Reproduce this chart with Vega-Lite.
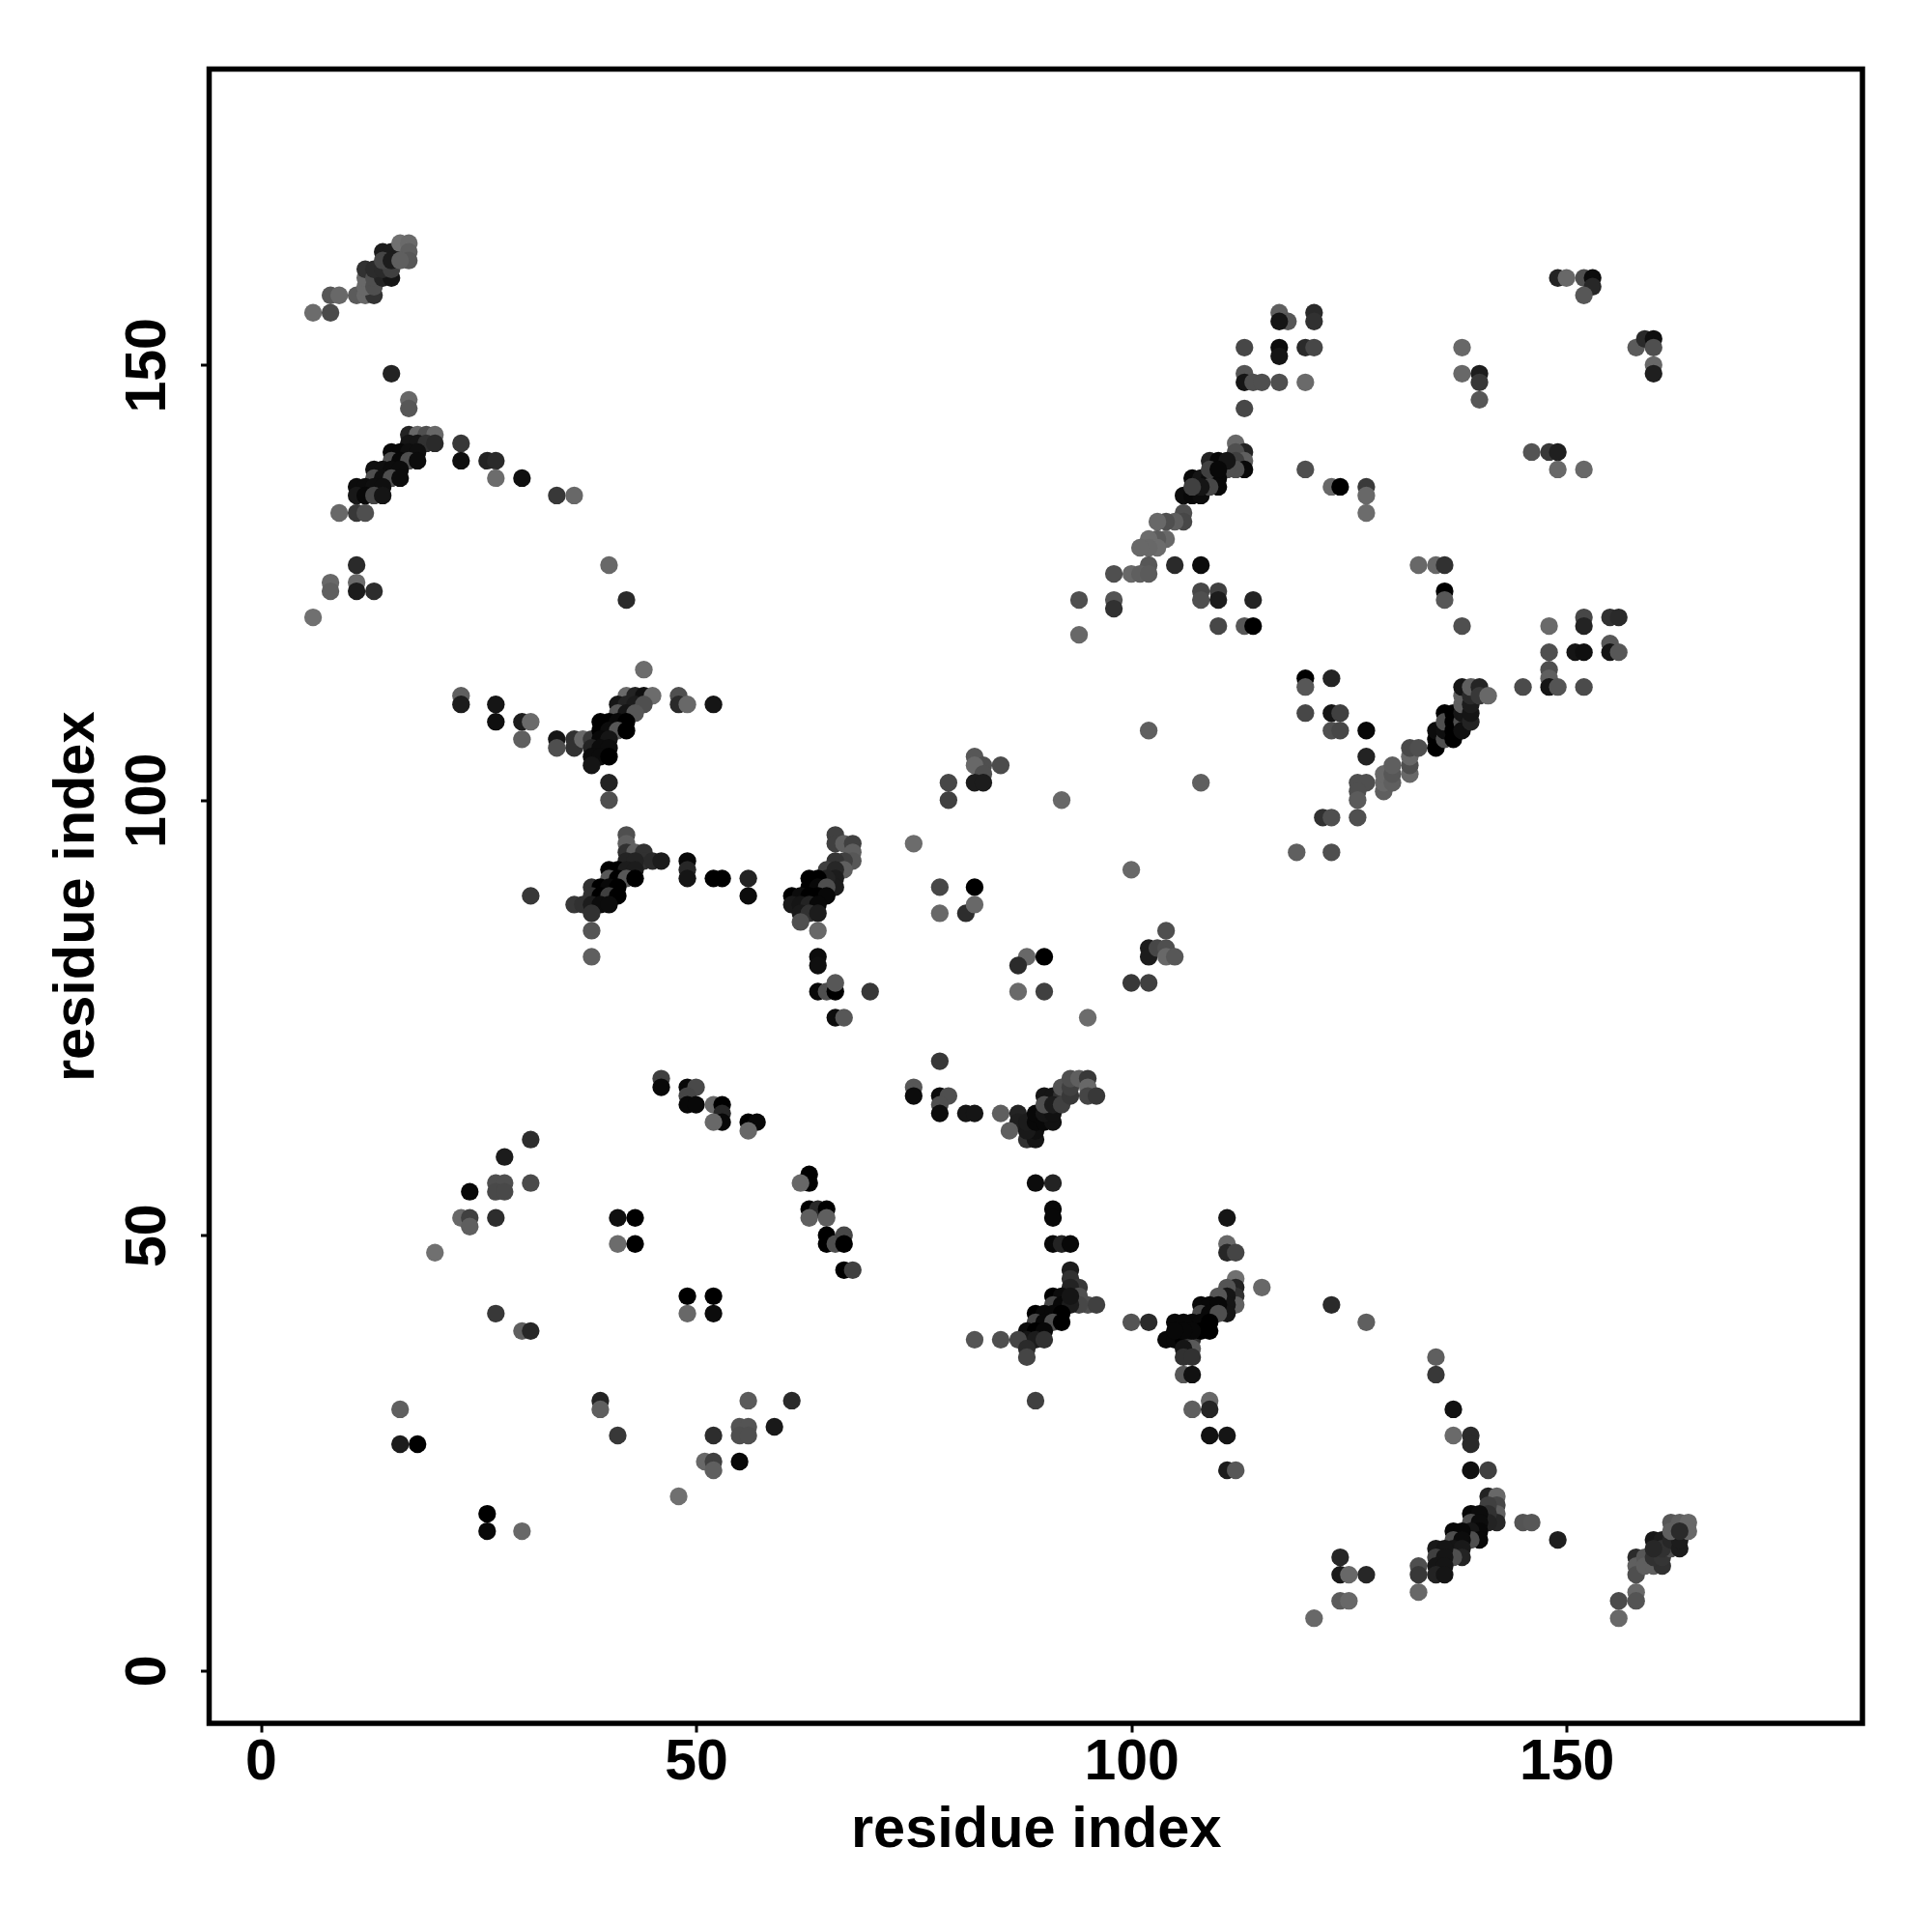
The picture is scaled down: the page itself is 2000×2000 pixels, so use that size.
{"$schema":"https://vega.github.io/schema/vega-lite/v6.json","width":1711.5,"height":1712.5,"autosize":{"type":"none"},"padding":{"left":216.5,"top":71.5,"right":72,"bottom":216},"background":"white","config":{"view":{"stroke":"black","strokeWidth":5.5,"fill":"white"}},
"data":{"values":[
{"x":6,"y":156,"v":108},{"x":8,"y":156,"v":76},{"x":8,"y":158,"v":88},{"x":9,"y":158,"v":104},{"x":11,"y":158,"v":92},{"x":12,"y":158,"v":104},{"x":13,"y":158,"v":50},{"x":12,"y":159,"v":104},{"x":12,"y":160,"v":104},{"x":12,"y":161,"v":48},{"x":13,"y":159,"v":80},{"x":13,"y":160,"v":80},{"x":14,"y":160,"v":32},{"x":15,"y":160,"v":16},{"x":13,"y":161,"v":42},{"x":14,"y":161,"v":40},{"x":15,"y":161,"v":64},{"x":14,"y":163,"v":24},{"x":15,"y":163,"v":24},{"x":14,"y":162,"v":70},{"x":15,"y":162,"v":24},{"x":16,"y":164,"v":112},{"x":17,"y":164,"v":106},{"x":17,"y":163,"v":96},{"x":17,"y":162,"v":88},{"x":16,"y":162,"v":96},
{"x":15,"y":149,"v":32},{"x":17,"y":146,"v":104},{"x":17,"y":145,"v":88},
{"x":17,"y":142,"v":32},{"x":18,"y":142,"v":104},{"x":19,"y":142,"v":80},{"x":20,"y":142,"v":104},{"x":17,"y":141,"v":16},{"x":18,"y":141,"v":16},{"x":19,"y":141,"v":48},{"x":20,"y":141,"v":40},{"x":15,"y":140,"v":5},{"x":16,"y":140,"v":5},{"x":17,"y":140,"v":10},{"x":18,"y":140,"v":10},{"x":15,"y":139,"v":80},{"x":16,"y":139,"v":5},{"x":17,"y":139,"v":80},{"x":18,"y":139,"v":8},{"x":13,"y":138,"v":10},{"x":14,"y":138,"v":10},{"x":15,"y":138,"v":8},{"x":16,"y":138,"v":8},{"x":13,"y":137,"v":80},{"x":14,"y":137,"v":10},{"x":15,"y":137,"v":80},{"x":16,"y":137,"v":8},{"x":11,"y":136,"v":8},{"x":12,"y":136,"v":8},{"x":13,"y":136,"v":10},{"x":14,"y":136,"v":10},{"x":11,"y":135,"v":20},{"x":12,"y":135,"v":5},{"x":13,"y":135,"v":70},{"x":14,"y":135,"v":16},
{"x":23,"y":141,"v":56},{"x":23,"y":139,"v":10},{"x":26,"y":139,"v":32},{"x":27,"y":139,"v":40},{"x":27,"y":137,"v":108},{"x":30,"y":137,"v":10},{"x":34,"y":135,"v":56},{"x":36,"y":135,"v":104},{"x":9,"y":133,"v":104},{"x":11,"y":133,"v":56},{"x":12,"y":133,"v":80},{"x":11,"y":127,"v":40},{"x":8,"y":125,"v":104},{"x":8,"y":124,"v":96},{"x":11,"y":125,"v":106},{"x":11,"y":124,"v":24},{"x":13,"y":124,"v":44},{"x":6,"y":121,"v":112},{"x":40,"y":127,"v":104},{"x":42,"y":123,"v":40},{"x":44,"y":115,"v":108},
{"x":23,"y":112,"v":96},{"x":23,"y":111,"v":24},{"x":27,"y":111,"v":16},{"x":27,"y":109,"v":10},{"x":30,"y":109,"v":24},{"x":31,"y":109,"v":106},{"x":30,"y":107,"v":96},{"x":34,"y":107,"v":16},{"x":34,"y":106,"v":80},{"x":36,"y":107,"v":48},{"x":36,"y":106,"v":48},{"x":37,"y":107,"v":104},{"x":38,"y":107,"v":56},{"x":42,"y":112,"v":106},{"x":43,"y":112,"v":32},{"x":44,"y":112,"v":10},{"x":45,"y":112,"v":108},{"x":41,"y":111,"v":16},{"x":42,"y":111,"v":32},{"x":43,"y":111,"v":24},{"x":44,"y":111,"v":80},{"x":41,"y":110,"v":88},{"x":42,"y":110,"v":16},{"x":43,"y":110,"v":88},{"x":39,"y":109,"v":0},{"x":40,"y":109,"v":0},{"x":41,"y":109,"v":5},{"x":42,"y":109,"v":0},{"x":39,"y":108,"v":0},{"x":40,"y":108,"v":8},{"x":41,"y":108,"v":88},{"x":42,"y":108,"v":0},{"x":39,"y":107,"v":5},{"x":40,"y":107,"v":16},{"x":38,"y":106,"v":32},{"x":39,"y":106,"v":8},{"x":40,"y":106,"v":8},{"x":38,"y":105,"v":8},{"x":39,"y":105,"v":8},{"x":40,"y":105,"v":0},{"x":38,"y":104,"v":16},{"x":40,"y":102,"v":32},{"x":40,"y":100,"v":80},{"x":48,"y":112,"v":80},{"x":48,"y":111,"v":40},{"x":49,"y":111,"v":104},{"x":52,"y":111,"v":16},
{"x":42,"y":96,"v":80},{"x":42,"y":95,"v":96},{"x":42,"y":94,"v":48},{"x":43,"y":94,"v":96},{"x":44,"y":94,"v":48},{"x":44,"y":93,"v":48},{"x":45,"y":93,"v":40},{"x":46,"y":93,"v":24},{"x":42,"y":93,"v":32},{"x":43,"y":93,"v":32},{"x":49,"y":93,"v":5},{"x":49,"y":92,"v":37},{"x":49,"y":91,"v":16},{"x":52,"y":91,"v":0},{"x":53,"y":91,"v":0},{"x":56,"y":91,"v":32},{"x":56,"y":89,"v":8},{"x":31,"y":89,"v":56},{"x":40,"y":92,"v":0},{"x":41,"y":92,"v":0},{"x":42,"y":92,"v":24},{"x":43,"y":92,"v":24},{"x":40,"y":91,"v":88},{"x":41,"y":91,"v":0},{"x":42,"y":91,"v":88},{"x":43,"y":91,"v":0},{"x":38,"y":90,"v":48},{"x":39,"y":90,"v":0},{"x":40,"y":90,"v":5},{"x":41,"y":90,"v":0},{"x":38,"y":89,"v":48},{"x":39,"y":89,"v":0},{"x":40,"y":89,"v":64},{"x":41,"y":89,"v":0},{"x":36,"y":88,"v":56},{"x":37,"y":88,"v":48},{"x":38,"y":88,"v":24},{"x":39,"y":88,"v":8},{"x":40,"y":88,"v":8},{"x":38,"y":87,"v":48},{"x":38,"y":85,"v":85},{"x":38,"y":82,"v":96},
{"x":82,"y":105,"v":88},{"x":83,"y":104,"v":80},{"x":85,"y":104,"v":76},{"x":82,"y":104,"v":104},{"x":83,"y":103,"v":80},{"x":82,"y":102,"v":24},{"x":83,"y":102,"v":24},{"x":79,"y":102,"v":72},{"x":79,"y":100,"v":64},{"x":92,"y":100,"v":104},{"x":108,"y":102,"v":96},{"x":102,"y":108,"v":96},{"x":75,"y":95,"v":108},
{"x":66,"y":96,"v":64},{"x":66,"y":95,"v":64},{"x":67,"y":95,"v":96},{"x":68,"y":95,"v":64},{"x":68,"y":94,"v":96},{"x":68,"y":93,"v":88},{"x":67,"y":93,"v":64},{"x":66,"y":93,"v":53},{"x":67,"y":92,"v":96},{"x":65,"y":92,"v":64},{"x":66,"y":92,"v":37},{"x":66,"y":91,"v":24},{"x":66,"y":90,"v":24},{"x":65,"y":91,"v":32},{"x":63,"y":91,"v":0},{"x":64,"y":91,"v":0},{"x":63,"y":90,"v":0},{"x":64,"y":90,"v":5},{"x":65,"y":90,"v":80},{"x":61,"y":89,"v":0},{"x":62,"y":89,"v":8},{"x":63,"y":89,"v":0},{"x":64,"y":89,"v":0},{"x":65,"y":89,"v":5},{"x":61,"y":88,"v":21},{"x":62,"y":88,"v":16},{"x":63,"y":88,"v":32},{"x":64,"y":88,"v":5},{"x":62,"y":87,"v":21},{"x":63,"y":87,"v":48},{"x":64,"y":87,"v":24},{"x":62,"y":86,"v":80},{"x":64,"y":85,"v":104},
{"x":64,"y":82,"v":8},{"x":64,"y":81,"v":10},{"x":64,"y":78,"v":5},{"x":65,"y":78,"v":80},{"x":66,"y":78,"v":0},{"x":66,"y":79,"v":88},{"x":70,"y":78,"v":56},{"x":66,"y":75,"v":8},{"x":67,"y":75,"v":88},{"x":78,"y":90,"v":72},{"x":82,"y":90,"v":0},{"x":78,"y":87,"v":104},{"x":81,"y":87,"v":44},{"x":82,"y":88,"v":104},{"x":88,"y":82,"v":104},{"x":90,"y":82,"v":0},{"x":87,"y":81,"v":42},{"x":87,"y":78,"v":106},{"x":90,"y":78,"v":64},{"x":95,"y":75,"v":108},{"x":100,"y":92,"v":104},{"x":104,"y":85,"v":80},{"x":102,"y":83,"v":24},{"x":102,"y":82,"v":24},{"x":103,"y":83,"v":72},{"x":104,"y":83,"v":80},{"x":104,"y":82,"v":104},{"x":105,"y":82,"v":88},{"x":100,"y":79,"v":56},{"x":102,"y":79,"v":64},{"x":78,"y":70,"v":56},{"x":75,"y":67,"v":88},{"x":75,"y":66,"v":8},{"x":78,"y":66,"v":8},{"x":79,"y":66,"v":80},{"x":78,"y":65,"v":80},{"x":78,"y":64,"v":8},{"x":81,"y":64,"v":16},{"x":82,"y":64,"v":16},{"x":85,"y":64,"v":96},
{"x":87,"y":64,"v":32},{"x":87,"y":63,"v":28},{"x":86,"y":62,"v":96},{"x":88,"y":61,"v":48},{"x":89,"y":61,"v":16},{"x":89,"y":62,"v":10},{"x":88,"y":62,"v":21},{"x":88,"y":63,"v":24},{"x":89,"y":63,"v":5},{"x":89,"y":64,"v":5},{"x":90,"y":63,"v":5},{"x":91,"y":63,"v":12},{"x":90,"y":64,"v":16},{"x":91,"y":64,"v":12},{"x":90,"y":66,"v":16},{"x":91,"y":66,"v":16},{"x":92,"y":66,"v":48},{"x":90,"y":65,"v":80},{"x":91,"y":65,"v":24},{"x":92,"y":65,"v":64},{"x":92,"y":67,"v":85},{"x":93,"y":66,"v":56},{"x":93,"y":67,"v":64},{"x":93,"y":68,"v":80},{"x":94,"y":68,"v":96},{"x":95,"y":68,"v":56},{"x":95,"y":67,"v":104},{"x":95,"y":66,"v":69},{"x":96,"y":66,"v":56},
{"x":117,"y":156,"v":96},{"x":118,"y":155,"v":88},{"x":117,"y":155,"v":16},{"x":121,"y":156,"v":40},{"x":121,"y":155,"v":48},{"x":113,"y":152,"v":72},{"x":117,"y":152,"v":8},{"x":117,"y":151,"v":16},{"x":120,"y":152,"v":40},{"x":121,"y":152,"v":72},{"x":138,"y":152,"v":104},{"x":138,"y":149,"v":104},{"x":140,"y":149,"v":26},{"x":140,"y":148,"v":56},{"x":140,"y":146,"v":88},{"x":113,"y":149,"v":85},{"x":113,"y":148,"v":16},{"x":114,"y":148,"v":80},{"x":115,"y":148,"v":80},{"x":117,"y":148,"v":80},{"x":120,"y":148,"v":106},{"x":113,"y":145,"v":72},
{"x":112,"y":141,"v":104},{"x":113,"y":140,"v":32},{"x":112,"y":140,"v":80},{"x":113,"y":139,"v":96},{"x":112,"y":139,"v":64},{"x":113,"y":138,"v":5},{"x":112,"y":138,"v":80},{"x":111,"y":138,"v":80},{"x":109,"y":139,"v":32},{"x":110,"y":139,"v":5},{"x":111,"y":139,"v":16},{"x":107,"y":137,"v":5},{"x":108,"y":137,"v":16},{"x":109,"y":137,"v":8},{"x":110,"y":137,"v":5},{"x":109,"y":138,"v":64},{"x":110,"y":138,"v":5},{"x":106,"y":135,"v":8},{"x":107,"y":135,"v":5},{"x":108,"y":135,"v":8},{"x":110,"y":136,"v":5},{"x":109,"y":136,"v":72},{"x":108,"y":136,"v":16},{"x":107,"y":136,"v":64},
{"x":106,"y":133,"v":80},{"x":106,"y":132,"v":72},{"x":105,"y":132,"v":96},{"x":104,"y":132,"v":80},{"x":103,"y":132,"v":104},{"x":104,"y":130,"v":104},{"x":103,"y":130,"v":92},{"x":102,"y":130,"v":108},{"x":103,"y":129,"v":108},{"x":102,"y":129,"v":104},{"x":101,"y":129,"v":104},{"x":102,"y":127,"v":88},{"x":105,"y":127,"v":40},{"x":108,"y":127,"v":8},{"x":98,"y":126,"v":80},{"x":100,"y":126,"v":104},{"x":101,"y":126,"v":96},{"x":102,"y":126,"v":92},{"x":94,"y":123,"v":80},{"x":98,"y":123,"v":85},{"x":98,"y":122,"v":48},{"x":108,"y":124,"v":72},{"x":108,"y":123,"v":80},{"x":110,"y":124,"v":64},{"x":110,"y":123,"v":24},{"x":114,"y":123,"v":34},{"x":94,"y":119,"v":104},{"x":110,"y":120,"v":72},{"x":113,"y":120,"v":88},{"x":114,"y":120,"v":0},{"x":120,"y":138,"v":80},{"x":123,"y":136,"v":104},{"x":124,"y":136,"v":0},{"x":127,"y":136,"v":58},{"x":127,"y":135,"v":104},{"x":127,"y":133,"v":108},{"x":133,"y":127,"v":104},{"x":135,"y":127,"v":104},{"x":136,"y":127,"v":48},{"x":136,"y":124,"v":0},{"x":136,"y":123,"v":88},{"x":138,"y":120,"v":80},{"x":146,"y":140,"v":85},{"x":148,"y":140,"v":56},{"x":149,"y":140,"v":28},{"x":149,"y":138,"v":104},{"x":152,"y":138,"v":104},
{"x":148,"y":120,"v":106},{"x":152,"y":121,"v":72},{"x":152,"y":120,"v":32},{"x":155,"y":121,"v":48},{"x":156,"y":121,"v":40},{"x":148,"y":117,"v":80},{"x":151,"y":117,"v":16},{"x":152,"y":117,"v":10},{"x":155,"y":118,"v":88},{"x":155,"y":117,"v":16},{"x":156,"y":117,"v":88},{"x":148,"y":115,"v":80},{"x":148,"y":114,"v":96},{"x":148,"y":113,"v":16},{"x":149,"y":113,"v":85},{"x":145,"y":113,"v":76},{"x":152,"y":113,"v":76},{"x":120,"y":114,"v":0},{"x":120,"y":113,"v":88},{"x":123,"y":114,"v":34},{"x":120,"y":110,"v":72},{"x":123,"y":110,"v":16},{"x":124,"y":110,"v":64},{"x":123,"y":108,"v":80},{"x":124,"y":108,"v":72},{"x":127,"y":108,"v":5},{"x":127,"y":105,"v":32},{"x":126,"y":102,"v":80},{"x":127,"y":102,"v":80},{"x":126,"y":101,"v":80},{"x":126,"y":100,"v":92},{"x":126,"y":98,"v":80},{"x":122,"y":98,"v":48},{"x":123,"y":98,"v":80},{"x":119,"y":94,"v":96},{"x":123,"y":94,"v":80},{"x":129,"y":101,"v":96},{"x":129,"y":102,"v":104},{"x":129,"y":103,"v":104},{"x":130,"y":102,"v":96},{"x":130,"y":103,"v":88},{"x":130,"y":104,"v":96},{"x":132,"y":103,"v":104},{"x":132,"y":104,"v":80},{"x":132,"y":105,"v":104},{"x":132,"y":106,"v":74},{"x":133,"y":106,"v":80},
{"x":135,"y":106,"v":0},{"x":135,"y":107,"v":0},{"x":135,"y":108,"v":8},{"x":136,"y":107,"v":80},{"x":136,"y":108,"v":10},{"x":136,"y":110,"v":0},{"x":136,"y":109,"v":80},{"x":137,"y":107,"v":0},{"x":137,"y":108,"v":0},{"x":137,"y":109,"v":0},{"x":137,"y":110,"v":0},{"x":138,"y":109,"v":80},{"x":138,"y":108,"v":10},{"x":138,"y":110,"v":16},{"x":138,"y":111,"v":96},{"x":138,"y":112,"v":96},{"x":138,"y":113,"v":16},{"x":139,"y":109,"v":32},{"x":139,"y":110,"v":16},{"x":139,"y":111,"v":24},{"x":139,"y":112,"v":40},{"x":139,"y":113,"v":96},{"x":140,"y":113,"v":34},{"x":140,"y":112,"v":56},{"x":141,"y":112,"v":104},
{"x":46,"y":68,"v":64},{"x":46,"y":67,"v":5},{"x":49,"y":67,"v":5},{"x":50,"y":67,"v":74},{"x":49,"y":66,"v":69},{"x":49,"y":65,"v":5},{"x":50,"y":65,"v":5},{"x":52,"y":65,"v":104},{"x":53,"y":65,"v":0},{"x":53,"y":64,"v":37},{"x":53,"y":63,"v":5},{"x":52,"y":63,"v":104},{"x":56,"y":63,"v":0},{"x":57,"y":63,"v":5},{"x":56,"y":62,"v":104},{"x":31,"y":61,"v":44},{"x":28,"y":59,"v":24},{"x":24,"y":55,"v":5},{"x":27,"y":56,"v":80},{"x":28,"y":56,"v":80},{"x":27,"y":55,"v":74},{"x":28,"y":55,"v":74},{"x":31,"y":56,"v":76},{"x":23,"y":52,"v":104},{"x":24,"y":52,"v":64},{"x":24,"y":51,"v":96},{"x":27,"y":52,"v":44},{"x":20,"y":48,"v":112},{"x":41,"y":52,"v":10},{"x":43,"y":52,"v":0},{"x":41,"y":49,"v":108},{"x":43,"y":49,"v":0},{"x":27,"y":41,"v":56},{"x":30,"y":39,"v":96},{"x":31,"y":39,"v":37},{"x":49,"y":43,"v":0},{"x":52,"y":43,"v":0},{"x":49,"y":41,"v":104},{"x":52,"y":41,"v":8},{"x":63,"y":57,"v":0},{"x":63,"y":56,"v":0},{"x":62,"y":56,"v":104},{"x":63,"y":53,"v":0},{"x":64,"y":53,"v":40},{"x":65,"y":53,"v":0},{"x":63,"y":52,"v":96},{"x":65,"y":52,"v":96},{"x":65,"y":50,"v":0},{"x":65,"y":49,"v":0},{"x":66,"y":49,"v":80},{"x":67,"y":50,"v":72},{"x":67,"y":49,"v":0},{"x":67,"y":46,"v":0},{"x":68,"y":46,"v":64},{"x":39,"y":31,"v":34},{"x":39,"y":30,"v":96},{"x":41,"y":27,"v":56},{"x":56,"y":31,"v":92},{"x":61,"y":31,"v":40},{"x":59,"y":28,"v":21},{"x":55,"y":28,"v":85},{"x":56,"y":28,"v":85},{"x":55,"y":27,"v":80},{"x":56,"y":27,"v":80},{"x":52,"y":27,"v":44},{"x":51,"y":24,"v":104},{"x":52,"y":24,"v":64},{"x":52,"y":23,"v":96},{"x":55,"y":24,"v":5},{"x":48,"y":20,"v":112},{"x":26,"y":18,"v":0},{"x":26,"y":16,"v":5},{"x":30,"y":16,"v":104},{"x":18,"y":26,"v":0},{"x":16,"y":26,"v":24},{"x":16,"y":30,"v":96},
{"x":89,"y":56,"v":8},{"x":91,"y":56,"v":32},{"x":91,"y":53,"v":5},{"x":91,"y":52,"v":5},{"x":91,"y":49,"v":5},{"x":92,"y":49,"v":32},{"x":93,"y":49,"v":5},{"x":93,"y":46,"v":24},{"x":93,"y":45,"v":48},{"x":94,"y":44,"v":56},{"x":93,"y":44,"v":32},{"x":94,"y":43,"v":80},{"x":95,"y":42,"v":80},{"x":96,"y":42,"v":64},{"x":94,"y":42,"v":72},{"x":91,"y":43,"v":0},{"x":92,"y":43,"v":8},{"x":91,"y":42,"v":72},{"x":92,"y":42,"v":5},{"x":93,"y":42,"v":24},{"x":93,"y":43,"v":16},{"x":89,"y":41,"v":0},{"x":90,"y":41,"v":5},{"x":91,"y":41,"v":5},{"x":92,"y":41,"v":0},{"x":89,"y":40,"v":72},{"x":90,"y":40,"v":5},{"x":91,"y":40,"v":80},{"x":92,"y":40,"v":0},{"x":88,"y":39,"v":8},{"x":89,"y":39,"v":0},{"x":90,"y":39,"v":5},{"x":88,"y":38,"v":16},{"x":89,"y":38,"v":24},{"x":90,"y":38,"v":48},{"x":87,"y":38,"v":69},{"x":88,"y":37,"v":40},{"x":88,"y":36,"v":69},{"x":82,"y":38,"v":85},{"x":85,"y":38,"v":80},{"x":89,"y":31,"v":64},{"x":100,"y":40,"v":85},{"x":102,"y":40,"v":40},
{"x":111,"y":52,"v":16},{"x":111,"y":49,"v":104},{"x":111,"y":48,"v":37},{"x":112,"y":48,"v":69},{"x":112,"y":45,"v":112},{"x":112,"y":44,"v":32},{"x":112,"y":43,"v":48},{"x":112,"y":42,"v":96},{"x":111,"y":44,"v":85},{"x":115,"y":44,"v":104},{"x":111,"y":43,"v":16},{"x":111,"y":42,"v":16},{"x":111,"y":41,"v":16},{"x":110,"y":43,"v":88},{"x":108,"y":42,"v":5},{"x":109,"y":42,"v":5},{"x":110,"y":42,"v":5},{"x":108,"y":41,"v":72},{"x":109,"y":41,"v":5},{"x":110,"y":41,"v":80},{"x":107,"y":40,"v":5},{"x":108,"y":40,"v":5},{"x":109,"y":40,"v":0},{"x":105,"y":40,"v":5},{"x":106,"y":40,"v":5},{"x":104,"y":38,"v":5},{"x":105,"y":38,"v":5},{"x":106,"y":38,"v":0},{"x":107,"y":38,"v":48},{"x":109,"y":39,"v":0},{"x":108,"y":39,"v":0},{"x":107,"y":39,"v":5},{"x":106,"y":39,"v":5},{"x":105,"y":39,"v":5},{"x":107,"y":37,"v":90},{"x":106,"y":37,"v":16},{"x":106,"y":36,"v":48},{"x":107,"y":36,"v":48},{"x":106,"y":34,"v":88},{"x":107,"y":34,"v":12},{"x":107,"y":30,"v":96},{"x":109,"y":31,"v":104},{"x":109,"y":30,"v":34},{"x":109,"y":27,"v":12},{"x":111,"y":27,"v":16},{"x":111,"y":23,"v":24},{"x":112,"y":23,"v":88},{"x":123,"y":42,"v":40},{"x":127,"y":40,"v":96},{"x":135,"y":36,"v":96},{"x":135,"y":34,"v":56},{"x":124,"y":13,"v":37},{"x":124,"y":11,"v":21},{"x":125,"y":11,"v":104},{"x":127,"y":11,"v":37},{"x":124,"y":8,"v":92},{"x":125,"y":8,"v":104},{"x":121,"y":6,"v":104},{"x":133,"y":12,"v":80},{"x":133,"y":11,"v":56},{"x":133,"y":9,"v":104},
{"x":137,"y":30,"v":12},{"x":137,"y":27,"v":106},{"x":139,"y":27,"v":40},{"x":139,"y":26,"v":40},{"x":139,"y":23,"v":10},{"x":141,"y":23,"v":64},{"x":141,"y":20,"v":32},{"x":142,"y":20,"v":104},{"x":142,"y":19,"v":72},{"x":142,"y":18,"v":96},{"x":142,"y":17,"v":37},{"x":141,"y":19,"v":64},{"x":141,"y":18,"v":48},{"x":141,"y":17,"v":32},{"x":145,"y":17,"v":85},{"x":146,"y":17,"v":88},{"x":149,"y":15,"v":28},{"x":139,"y":18,"v":5},{"x":140,"y":18,"v":8},{"x":139,"y":17,"v":80},{"x":140,"y":17,"v":8},{"x":140,"y":16,"v":5},{"x":139,"y":16,"v":16},{"x":140,"y":15,"v":5},{"x":139,"y":15,"v":80},{"x":137,"y":16,"v":5},{"x":138,"y":16,"v":5},{"x":137,"y":15,"v":80},{"x":138,"y":15,"v":8},{"x":137,"y":14,"v":16},{"x":138,"y":14,"v":21},{"x":138,"y":13,"v":32},{"x":137,"y":13,"v":80},{"x":135,"y":14,"v":21},{"x":136,"y":14,"v":16},{"x":135,"y":13,"v":64},{"x":136,"y":13,"v":16},{"x":135,"y":12,"v":16},{"x":136,"y":12,"v":16},{"x":135,"y":11,"v":32},{"x":136,"y":11,"v":16},
{"x":156,"y":8,"v":76},{"x":156,"y":6,"v":104},{"x":158,"y":9,"v":104},{"x":158,"y":8,"v":85},{"x":158,"y":13,"v":42},{"x":158,"y":12,"v":96},{"x":158,"y":11,"v":80},{"x":159,"y":13,"v":88},{"x":159,"y":12,"v":96},{"x":160,"y":12,"v":96},{"x":161,"y":12,"v":48},{"x":160,"y":13,"v":48},{"x":161,"y":13,"v":53},{"x":160,"y":15,"v":18},{"x":161,"y":15,"v":24},{"x":162,"y":14,"v":80},{"x":161,"y":14,"v":48},{"x":160,"y":14,"v":37},{"x":162,"y":15,"v":37},{"x":163,"y":14,"v":24},{"x":163,"y":15,"v":24},{"x":162,"y":17,"v":88},{"x":163,"y":17,"v":96},{"x":164,"y":17,"v":104},{"x":164,"y":16,"v":104},{"x":162,"y":16,"v":96},{"x":163,"y":16,"v":40},
{"x":149,"y":160,"v":32},{"x":150,"y":160,"v":104},{"x":152,"y":160,"v":80},{"x":153,"y":160,"v":8},{"x":153,"y":159,"v":37},{"x":152,"y":158,"v":88},{"x":158,"y":152,"v":92},{"x":159,"y":153,"v":40},{"x":160,"y":153,"v":10},{"x":160,"y":152,"v":80},{"x":160,"y":150,"v":104},{"x":160,"y":149,"v":28}
]},
"mark":{"type":"point","shape":"circle","filled":true,"size":336,"opacity":1,"strokeWidth":0},
"encoding":{
"x":{"field":"x","type":"quantitative","scale":{"domain":[-5.94,184],"nice":false,"zero":false},"axis":{"values":[0,50,100,150],"title":"residue index","grid":false,"domain":false,"tickColor":"black","tickWidth":3,"tickSize":9,"labelFont":"Liberation Sans","labelFontWeight":"bold","labelFontSize":59,"labelColor":"black","labelPadding":1,"labelBaseline":"top","titleFont":"Liberation Sans","titleFontWeight":"bold","titleFontSize":59.5,"titleColor":"black","titlePadding":11}},
"y":{"field":"y","type":"quantitative","scale":{"domain":[-6.08,184],"nice":false,"zero":false},"axis":{"values":[0,50,100,150],"title":"residue index","grid":false,"domain":false,"tickColor":"black","tickWidth":3,"tickSize":9,"labelFont":"Liberation Sans","labelFontWeight":"bold","labelFontSize":59,"labelColor":"black","labelAngle":-90,"labelAlign":"center","labelBaseline":"bottom","labelPadding":25,"titleFont":"Liberation Sans","titleFontWeight":"bold","titleFontSize":59.5,"titleColor":"black","titlePadding":15}},
"color":{"field":"v","type":"quantitative","scale":{"domain":[0,112],"range":["#000000","#707070"]},"legend":null},
"order":[{"field":"x","type":"quantitative"},{"field":"y","type":"quantitative"}]
}}
